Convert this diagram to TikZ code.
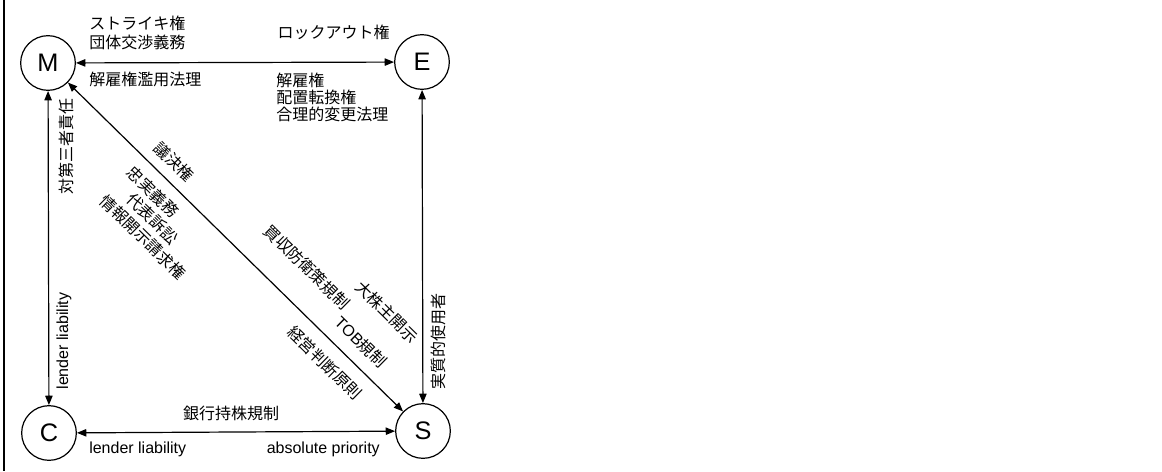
\documentclass[tikz,border=0pt]{standalone}
\usepackage{fontspec}
\setmainfont{Liberation Sans}
\newfontfamily\jp{Noto Sans CJK JP}
\usetikzlibrary{arrows.meta}
\begin{document}
\begin{tikzpicture}[x=0.75pt,y=-0.75pt,
  actor/.style={draw,circle,line width=0.9pt,minimum size=41pt,inner sep=0pt,font=\fontsize{19}{19}\selectfont},
  link/.style={line width=0.9pt,{Triangle[length=7pt,width=5.5pt]}-{Triangle[length=7pt,width=5.5pt]}},
  lbl/.style={inner sep=0pt,font=\fontsize{12}{14}\selectfont\jp},
  elbl/.style={inner sep=0pt,font=\fontsize{12}{14}\selectfont},
  diag/.style={lbl,rotate=-44.5}]
\useasboundingbox (0,0) rectangle (1162,471);
\draw[line width=1.4pt] (4,0) -- (4,471);
% actors
\node[actor] (M) at (48,63) {M};
\node[actor] (E) at (422,62) {E};
\node[actor] (C) at (49,433) {C};
\node[actor] (S) at (423,431) {S};
% connectors
\draw[link] (M) -- (E);
\draw[link] (M) -- (C);
\draw[link] (E) -- (S);
\draw[link] (C) -- (S);
\draw[link] (M) -- (S);
% top edge labels
\node[lbl,anchor=west] (t1) at (89,23) {ストライキ権};
\node[lbl,anchor=west] (t2) at (89,42) {団体交渉義務};
\node[lbl,anchor=west] (t3) at (89,79) {解雇権濫用法理};
\node[lbl,anchor=east] (t4) at (390,32) {ロックアウト権};
\node[lbl,anchor=west] (t5) at (276,80) {解雇権};
\node[lbl,anchor=west] (t6) at (276,97) {配置転換権};
\node[lbl,anchor=west] (t7) at (276,114) {合理的変更法理};
% left edge labels
\node[lbl,rotate=90] (l1) at (66,146) {対第三者責任};
\node[elbl,rotate=90] (l2) at (64,341) {lender liability};
% right edge label
\node[lbl,rotate=90] (r1) at (438,341) {実質的使用者};
% bottom edge labels
\node[lbl] (b1) at (231,413) {銀行持株規制};
\node[elbl,anchor=west] (b2) at (89,449) {lender liability};
\node[elbl,anchor=east] (b3) at (380,449) {absolute priority};
% diagonal labels
\node[diag] (d1) at (174,162) {議決権};
\node[diag] (d2) at (153,192) {忠実義務};
\node[diag] (d3) at (152.5,218.6) {代表訴訟};
\node[diag] (d4) at (143,237) {情報開示請求権};
\node[diag] (d5) at (307,267) {買収防衛策規制};
\node[diag] (d6) at (387,312) {大株主開示};
\node[diag] (d7) at (361,342) {{\rmfamily TOB}規制};
\node[diag] (d8) at (325,363) {経営判断原則};
\end{tikzpicture}
\end{document}
